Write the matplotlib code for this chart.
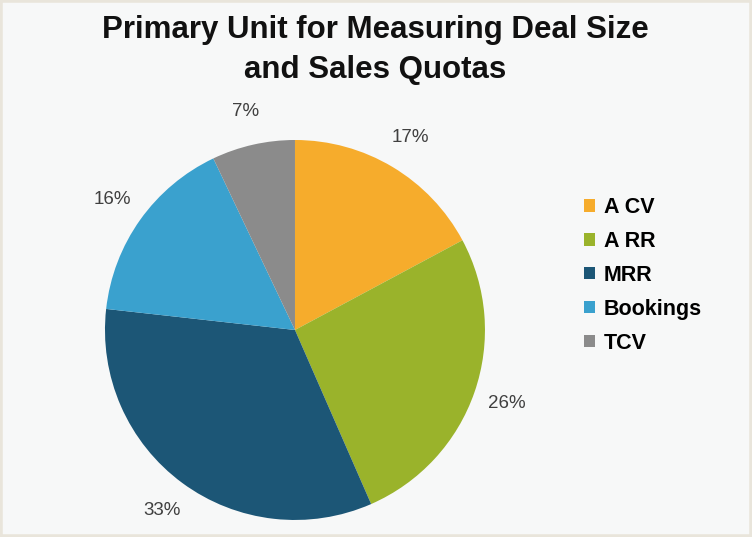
import matplotlib
matplotlib.use("Agg")
import matplotlib.pyplot as plt
from matplotlib.patches import Rectangle

# data
units = ["A CV", "A RR", "MRR", "Bookings", "TCV"]
shares = [17, 26, 33, 16, 7]
colors = ["#F6AC2C", "#9AB32B", "#1C5676", "#3AA1CE", "#8B8B8B"]

plt.rcParams["font.family"] = ["Liberation Sans", "DejaVu Sans"]

fig = plt.figure(figsize=(7.52, 5.37), dpi=100, facecolor="#F7F8F8")
fig.patches.append(Rectangle((0, 0), 1, 1, transform=fig.transFigure,
                             fill=False, edgecolor="#E9E5DB", linewidth=4))

ax = fig.add_axes([0.1396, 0.0317, 0.5053, 0.7076])
wedges, texts = ax.pie(shares, colors=colors, startangle=90, counterclock=False,
                       labels=[f"{v}%" for v in shares], labeldistance=1.18,
                       wedgeprops=dict(linewidth=0),
                       textprops=dict(color="#404040", fontsize=13.5))
for t in texts:
    t.set_horizontalalignment("center")
    t.set_verticalalignment("center")
ax.set_xlim(-1, 1)
ax.set_ylim(-1, 1)
ax.set_aspect("equal")

fig.text(0.499, 0.972, "Primary Unit for Measuring Deal Size\nand Sales Quotas",
         ha="center", va="top", fontsize=22.5, fontweight="bold",
         linespacing=1.45, color="#111111")

ax.legend(wedges, units, loc="center left", bbox_to_anchor=(0.777, 0.487),
          bbox_transform=fig.transFigure, frameon=False, handlelength=0.5,
          handleheight=0.5, handletextpad=0.4, labelspacing=0.6,
          borderaxespad=0, borderpad=0,
          prop=dict(size=15.5, weight="bold"))

fig.savefig("out.png", dpi=100, facecolor=fig.get_facecolor())
